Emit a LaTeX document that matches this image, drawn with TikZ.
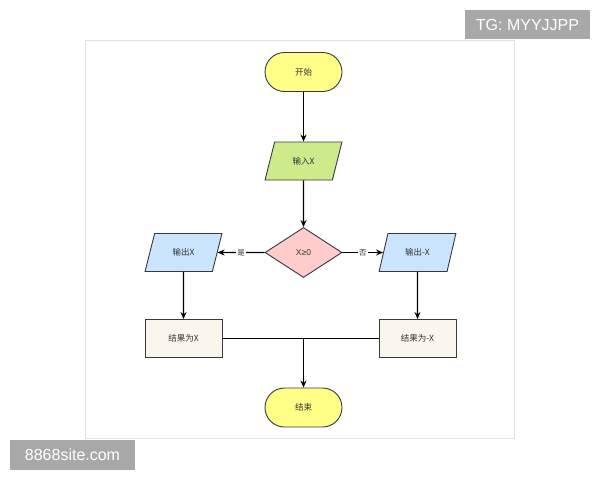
\documentclass[tikz,border=0pt]{standalone}
\usepackage{fontspec}
\setmainfont{Noto Sans CJK SC}
\newfontfamily\wmfont{Liberation Sans}
\usepackage{xcolor}
\usetikzlibrary{shapes.geometric,arrows.meta}
\definecolor{bg}{HTML}{FFFFFF}
\definecolor{frame}{HTML}{E2E2E2}
\definecolor{edge}{HTML}{36393D}
\definecolor{ink}{HTML}{333333}
\definecolor{termfill}{HTML}{FFFF88}
\definecolor{infill}{HTML}{CDEB8B}
\definecolor{condfill}{HTML}{FFCCCC}
\definecolor{outfill}{HTML}{CCE5FF}
\definecolor{resfill}{HTML}{F9F7ED}
\definecolor{wmgray}{HTML}{A8A8A8}
\newcommand\diagfont{\fontsize{8.5}{10}\selectfont}
\tikzset{
  box/.style={draw=edge, line width=0.9pt, text=ink, font=\diagfont, inner sep=1pt},
  term/.style={box, fill=termfill, rounded corners=19.5pt, minimum width=77pt, minimum height=39pt},
  io/.style={box, trapezium, trapezium stretches=true, trapezium left angle=68, trapezium right angle=112,
    minimum width=77pt, minimum height=38pt},
  cond/.style={box, diamond, fill=condfill, minimum width=77pt, minimum height=50pt, inner sep=0pt},
  res/.style={box, fill=resfill, minimum width=77pt, minimum height=38pt},
  flow/.style={draw=black, line width=1.1pt},
  arr/.style={flow, -{Stealth[length=7pt,width=6pt]}},
  lab/.style={fill=bg, text=ink, font=\fontsize{7.5}{9}\selectfont, inner sep=1pt},
  wm/.style={fill=wmgray, text=white, font=\wmfont\fontsize{16}{18}\selectfont, inner sep=0pt},
}
\begin{document}
\begin{tikzpicture}[x=1pt,y=-1pt]
  \useasboundingbox[fill=bg] (0,0) rectangle (600,480);
  \draw[frame, line width=0.8pt] (85.5,40.5) rectangle (514.5,438);

  \node[term] (start) at (303.5,72) {开始};
  \node[io, fill=infill] (input) at (303.5,161) {输入X};
  \node[cond] (test) at (303.5,252.5) {\wmfont X≥0};
  \node[io, fill=outfill] (outL) at (183.5,252.5) {输出X};
  \node[io, fill=outfill] (outR) at (417.5,252.5) {输出-X};
  \node[res] (resL) at (183.5,338.5) {结果为X};
  \node[res] (resR) at (417.5,338.5) {结果为-X};
  \node[term] (stop) at (303.5,407.5) {结束};
  \coordinate (join) at (303.5,338.5);

  \draw[arr] (start) -- (input);
  \draw[arr] (input) -- (test);
  \draw[arr] (test.west) -- node[lab] {是} (outL.east);
  \draw[arr] (test.east) -- node[lab] {否} (outR.west);
  \draw[arr] (outL) -- (resL);
  \draw[arr] (outR) -- (resR);
  \draw[flow] (resL.east) -- (join) -- (resR.west);
  \draw[arr] (join) -- (stop);

  % watermarks
  \node[wm, minimum width=125pt, minimum height=29pt] (tg) at (527.5,24.5) {TG: MYYJJPP};
  \node[wm, minimum width=125pt, minimum height=30pt] (site) at (72.5,455) {8868site.com};
\end{tikzpicture}
\end{document}
